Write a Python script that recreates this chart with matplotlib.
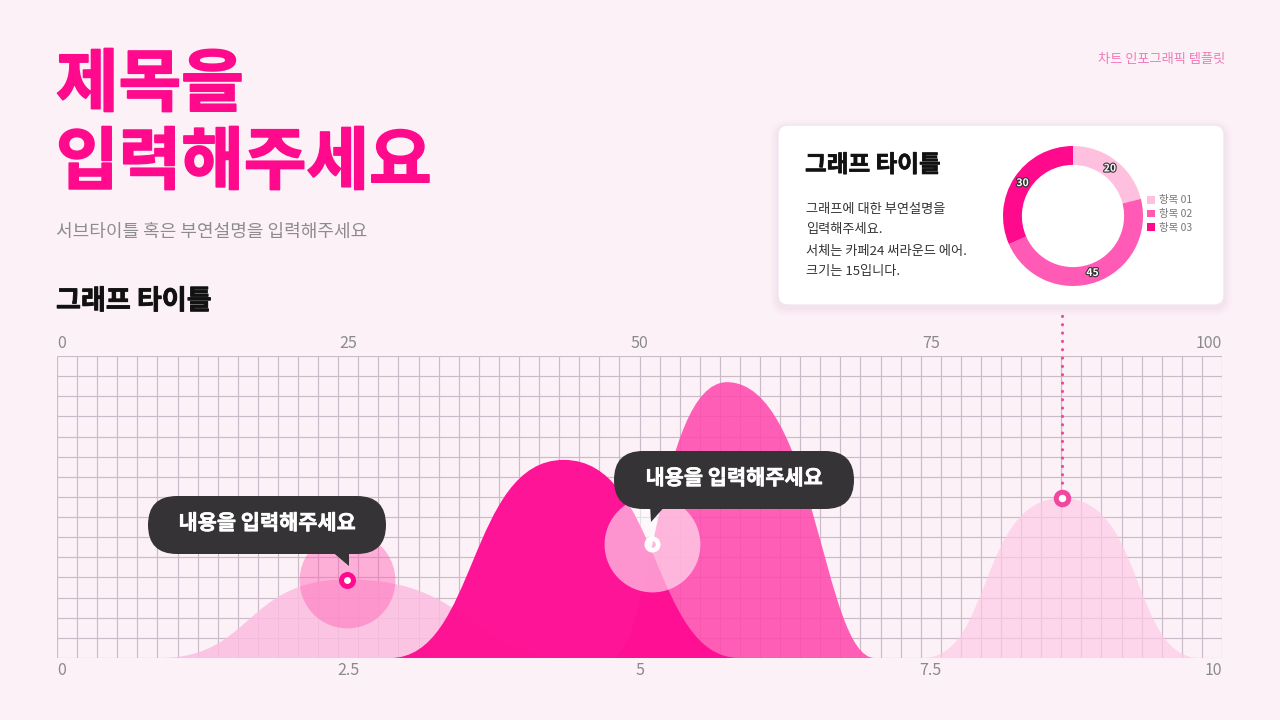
import numpy as np
import matplotlib.pyplot as plt
from matplotlib.path import Path
from matplotlib.patches import PathPatch, FancyBboxPatch, Polygon
import matplotlib.patheffects as pe

plt.rcParams['font.family'] = ['Noto Sans CJK KR', 'DejaVu Sans']

# ---- data ----
# bell curves: left foot, peak x, peak height, right foot (x on 0-10 scale, y in grid rows)
curve_names = ['c1', 'c2', 'c3', 'c4']
left_feet = [0.88, 2.86, 4.75, 7.43]
peak_x = [2.49, 4.35, 5.75, 8.63]
peak_h = [3.90, 9.84, 13.70, 7.95]
right_feet = [4.50, 5.86, 7.02, 9.81]

# callout anchor points
point_x = [2.49, 5.11, 8.63]
point_y = [3.87, 5.66, 7.95]
callout_text = '내용을 입력해주세요'

bottom_ticks = [0, 2.5, 5, 7.5, 10]
bottom_labels = ['0', '2.5', '5', '7.5', '10']
top_ticks = [0, 25, 50, 75, 100]
top_labels = ['0', '25', '50', '75', '100']

donut_values = [20, 45, 30]
donut_labels = ['항목 01', '항목 02', '항목 03']
donut_colors = ['#ffc0df', '#ff5ab6', '#ff0a8c']

title_lines = ['제목을', '입력해주세요']
subtitle = '서브타이틀 혹은 부연설명을 입력해주세요'
graph_title = '그래프 타이틀'
card_desc = ['그래프에 대한 부연설명을', '입력해주세요.', '서체는 카페24 써라운드 에어.', '크기는 15입니다.']
corner_text = '차트 인포그래픽 템플릿'

BG = '#fdf1f8'
PINK = '#ff0a8c'


def heavy(color, w=1.0):
    # a little outline in the same colour to thicken the bold face
    return [pe.withStroke(linewidth=w, foreground=color)]


fig = plt.figure(figsize=(12.8, 7.2), dpi=100, facecolor=BG)

# background layer in pixel coords
deco = fig.add_axes([0, 0, 1, 1], zorder=0)
deco.set_xlim(0, 1280)
deco.set_ylim(720, 0)
deco.axis('off')

deco.text(56, 86, title_lines[0], fontsize=49, fontweight='bold', color=PINK, va='center', ha='left',
          path_effects=heavy(PINK, 1.2))
deco.text(56, 164, title_lines[1], fontsize=49, fontweight='bold', color=PINK, va='center', ha='left',
          path_effects=heavy(PINK, 1.2))
deco.text(56, 232, subtitle, fontsize=13, color='#8c8c8c', va='center', ha='left')
deco.text(56, 301, graph_title, fontsize=19.5, fontweight='bold', color='#111111', va='center', ha='left',
          path_effects=heavy('#111111', 0.6))
deco.text(1225, 59, corner_text, fontsize=9.5, color='#f07ab8', va='center', ha='right')

# card with soft shadow
for i, a in enumerate([0.025, 0.025, 0.03, 0.035]):
    p = 8 - i * 2
    deco.add_patch(FancyBboxPatch((778 - p, 125 - p + 3), 446 + 2 * p, 180 + 2 * p,
                                  boxstyle='round,pad=0,rounding_size=%d' % (10 + p),
                                  fc='#b08aa0', ec='none', alpha=a))
deco.add_patch(FancyBboxPatch((778, 125), 446, 180, boxstyle='round,pad=0,rounding_size=10',
                              fc='white', ec='#f1e6ec', lw=1))
deco.text(805, 165, graph_title, fontsize=17, fontweight='bold', color='#111111', va='center', ha='left',
          path_effects=heavy('#111111', 0.5))
for i, line in enumerate(card_desc):
    deco.text(806, 209 + i * 21, line, fontsize=9.5, color='#333333', va='center', ha='left')

# ---- main chart ----
ax = fig.add_axes([57 / 1280, 62 / 720, 1165 / 1280, 302 / 720], zorder=1)
ax.set_facecolor('none')
ax.set_xlim(0, 10)
ax.set_ylim(0, 15)
for s in ax.spines.values():
    s.set_visible(False)

ax.vlines(np.linspace(0, 10, 59), 0, 15, color='#cbbac8', lw=0.85, zorder=0)
ax.hlines(np.arange(0, 16), 0, 10, color='#cbbac8', lw=0.85, zorder=0)

fills = {'c1': ('#fcbde0', 0.85, 0.5, 0.55, 1),
         'c4': ('#fdcbe6', 0.70, 0.5, 0.6, 2),
         'c3': ('#ff4aad', 0.88, 0.35, 0.6, 3),
         'c2': ('#ff0d93', 0.97, 0.5, 0.55, 4)}
for name, lf, px, h, rf in zip(curve_names, left_feet, peak_x, peak_h, right_feet):
    col, alpha, a, b, z = fills[name]
    verts = [(lf, 0),
             (lf + a * (px - lf), 0), (px - b * (px - lf), h), (px, h),
             (px + b * (rf - px), h), (rf - a * (rf - px), 0), (rf, 0),
             (lf, 0)]
    codes = [Path.MOVETO] + [Path.CURVE4] * 6 + [Path.CLOSEPOLY]
    ax.add_patch(PathPatch(Path(verts, codes), fc=col, ec='none', alpha=alpha, zorder=z))

# highlight discs and rings
ax.scatter([point_x[0]], [point_y[0]], s=4761, color='#ff5fb2', alpha=0.45, lw=0, zorder=5)
ax.scatter([point_x[1]], [point_y[1]], s=4761, color='white', alpha=0.55, lw=0, zorder=5)
ax.plot([point_x[2], point_x[2]], [point_y[2] + 0.35, 17.2], color='#f2479f', lw=2.3,
        linestyle=(0, (0.01, 2.6)), dash_capstyle='round', clip_on=False, zorder=6)
ax.plot(point_x[0], point_y[0], 'o', ms=8.6, mew=3.6, mec=PINK, mfc='white', zorder=7)
ax.plot(point_x[1], point_y[1], 'o', ms=8.2, mew=3.4, mec='white', mfc='none', zorder=7)
ax.plot(point_x[2], point_y[2], 'o', ms=9.0, mew=3.6, mec='#f2479f', mfc='white', zorder=7, clip_on=False)

ax.set_xticks(bottom_ticks, labels=bottom_labels)
ax.tick_params(axis='x', length=0, pad=3, labelsize=11.5, labelcolor='#8a8a8a')
ax.set_yticks([])
xl = ax.get_xticklabels()
xl[0].set_horizontalalignment('left')
xl[-1].set_horizontalalignment('right')

sec = ax.secondary_xaxis('top', functions=(lambda v: v * 10, lambda v: v / 10))
sec.set_xticks(top_ticks, labels=top_labels)
sec.tick_params(axis='x', length=0, pad=3, labelsize=11.5, labelcolor='#8a8a8a')
for s in sec.spines.values():
    s.set_visible(False)
tl = sec.get_xticklabels()
tl[0].set_horizontalalignment('left')
tl[-1].set_horizontalalignment('right')

# ---- donut ----
dax = fig.add_axes([1003 / 1280, (720 - 286) / 720, 140 / 1280, 140 / 720], zorder=2)
wedges, _ = dax.pie(donut_values, colors=donut_colors, startangle=90, counterclock=False,
                    wedgeprops=dict(width=0.27, linewidth=0))
dax.set_xlim(-1, 1)
dax.set_ylim(-1, 1)
dax.set_aspect('equal')
for w, v in zip(wedges, donut_values):
    ang = np.deg2rad((w.theta1 + w.theta2) / 2)
    dax.text(0.86 * np.cos(ang), 0.86 * np.sin(ang), str(v), ha='center', va='center',
             fontsize=7.5, fontweight='bold', color='white',
             path_effects=[pe.withStroke(linewidth=1.6, foreground='#333333')])
fig.legend(wedges, donut_labels, loc='center left', bbox_to_anchor=(1147 / 1280, 1 - 214 / 720),
           frameon=False, fontsize=7.5, labelcolor='#777777', handlelength=0.75, handleheight=0.75,
           handletextpad=0.4, labelspacing=0.35, borderpad=0, borderaxespad=0)

# ---- callouts on top ----
top = fig.add_axes([0, 0, 1, 1], zorder=3)
top.set_xlim(0, 1280)
top.set_ylim(720, 0)
top.axis('off')
top.patch.set_alpha(0)
DARK = '#353335'
top.add_patch(FancyBboxPatch((148, 496), 238, 58, boxstyle='round,pad=0,rounding_size=29', fc=DARK, ec='none'))
top.add_patch(Polygon([(330, 550), (349, 550), (349, 566)], closed=True, fc=DARK, ec='none'))
top.text(267, 523, callout_text, fontsize=15, fontweight='bold', color='white', ha='center', va='center',
         path_effects=heavy('white', 0.4))
top.add_patch(FancyBboxPatch((614, 451), 240, 58, boxstyle='round,pad=0,rounding_size=29', fc=DARK, ec='none'))
top.add_patch(Polygon([(650, 505), (666, 505), (651, 522)], closed=True, fc=DARK, ec='none'))
top.text(734, 478, callout_text, fontsize=15, fontweight='bold', color='white', ha='center', va='center',
         path_effects=heavy('white', 0.4))

fig.savefig('out.png', dpi=100, facecolor=BG)
